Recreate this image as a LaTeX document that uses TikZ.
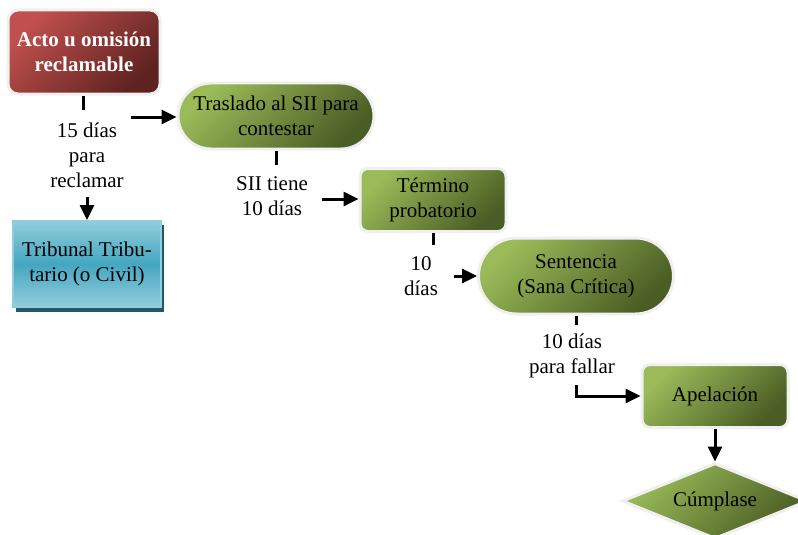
\documentclass[tikz,border=0pt]{standalone}
\usepackage{fontspec}
\setmainfont{Liberation Serif}
\usetikzlibrary{shapes.geometric,arrows.meta}
\definecolor{gl}{HTML}{9BBB59}
\definecolor{gd}{HTML}{4A5D24}
\definecolor{rl}{HTML}{C0504D}
\definecolor{rd}{HTML}{5E2220}
\definecolor{bl}{HTML}{92CDDC}
\definecolor{bm}{HTML}{45A6C0}
\definecolor{bs}{HTML}{215968}
\definecolor{glow}{HTML}{F0F0F0}
\tikzset{
  txt/.style={font=\rmfamily\fontsize{21}{25}\selectfont, align=center, text=black},
  greenbox/.style={txt, shade, top color=gl, bottom color=gd, shading angle=45,
    draw=glow, line width=3pt, inner sep=0pt},
  redbox/.style={txt, shade, top color=rl, bottom color=rd, shading angle=45,
    draw=glow, line width=3pt, inner sep=0pt, text=white,
    font=\rmfamily\fontsize{21}{25}\selectfont\bfseries},
  bluebox/.style={txt, shade, top color=bl, bottom color=bl, middle color=bm,
    draw=bl, line width=2pt, inner sep=0pt},
  lbl/.style={txt, inner sep=0pt},
  stub/.style={line width=3pt},
  arr/.style={line width=3pt, -{Triangle[length=15pt,width=14pt]}},
}
\begin{document}
\begin{tikzpicture}[x=1pt,y=-1pt]
\clip (0,0) rectangle (798,535);
\fill[white] (0,0) rectangle (798,535);

% nodes
\node[redbox, rounded corners=10pt, minimum width=152pt, minimum height=84pt] (acto) at (84,52) {Acto u omisión\\reclamable};
\fill[bs] (16,225) rectangle (164,312);
\node[bluebox, minimum width=148pt, minimum height=86pt] (trib) at (87,264) {Tribunal Tribu-\\tario (o Civil)};
\node[greenbox, rounded corners=33pt, minimum width=196pt, minimum height=66pt] (tras) at (276,116) {Traslado al SII para\\contestar};
\node[greenbox, rounded corners=8pt, minimum width=146pt, minimum height=63pt] (term) at (433,200) {Término\\probatorio};
\node[greenbox, rounded corners=38pt, minimum width=195pt, minimum height=76pt] (sent) at (576,276) {Sentencia\\(Sana Crítica)};
\node[greenbox, rounded corners=8pt, minimum width=146pt, minimum height=63pt] (apel) at (715,396) {Apelación};
\node[greenbox, diamond, aspect=2.45, minimum width=186pt, minimum height=76pt] (cump) at (715,501) {Cúmplase};

% labels
\node[lbl] (l1) at (87,155) {15 días\\para\\reclamar};
\node[lbl] (l2) at (272,196) {SII tiene\\10 días};
\node[lbl] (l3) at (421,276) {10\\días};
\node[lbl] (l4) at (572,356) {10 días\\para fallar};

% coordinates
\coordinate (s1) at (83,110);
\coordinate (a1) at (131,117);
\coordinate (a1d) at (87,197);
\coordinate (s2) at (276,165);
\coordinate (a2) at (322,199);
\coordinate (s3) at (433,245);
\coordinate (a3) at (454,276);
\coordinate (s4) at (576,325);
\coordinate (a4) at (576,385);

% connectors
\draw[stub] (acto.south -| s1) -- (s1);
\draw[arr] (a1) -- (a1 -| tras.west);
\draw[arr] (a1d) -- (a1d |- trib.north);
\draw[stub] (tras.south -| s2) -- (s2);
\draw[arr] (a2) -- (a2 -| term.west);
\draw[stub] (term.south -| s3) -- (s3);
\draw[arr] (a3) -- (a3 -| sent.west);
\draw[stub] (sent.south -| s4) -- (s4);
\draw[arr] (a4) |- (apel.west);
\draw[arr] (apel.south) -- (cump.north);
\end{tikzpicture}
\end{document}
